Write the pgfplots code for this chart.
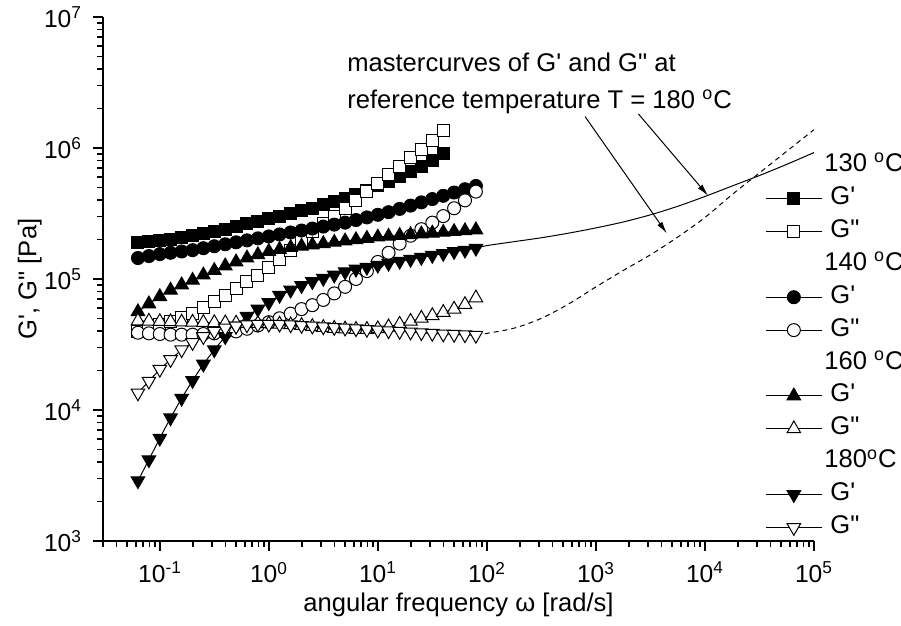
\documentclass[border=0pt]{standalone}
\usepackage{fontspec}
\setmainfont{Liberation Sans}
\usepackage{pgfplots}
\pgfplotsset{compat=1.18}
\usepackage{pgfplotstable}
\usetikzlibrary{arrows.meta}

\pgfplotstableread{
x A B C D E F G H
0.0628 188400 39810 144500 38900 56230 47860 2884 13490
0.0791 192800 42660 149600 38460 64570 47640 4169 16600
0.0996 197200 44670 154900 38020 73280 47320 6095 20420
0.125 201800 47320 158500 37580 82220 47100 8710 24270
0.158 206500 50700 162200 37580 90160 46880 12300 28840
0.199 213800 54950 166000 37580 97720 46770 16790 32730
0.250 221300 60260 171800 38020 107200 46560 22390 36310
0.315 229100 66830 177800 38460 116100 46450 28840 39810
0.397 239900 74990 184100 38900 125900 46240 36310 42170
0.499 251200 85110 190500 39810 134900 46030 43650 43650
0.628 263000 95500 197200 41690 144500 45810 51880 44670
0.791 275400 107200 204200 44160 153100 45710 58880 45190
0.996 288400 121600 211300 46770 162200 45500 66070 45190
1.25 302000 141300 218800 50120 167900 45190 74990 45190
1.58 316200 166000 226500 54330 173800 44670 82220 44670
1.99 331100 195000 234400 58880 177800 44160 89130 44160
2.50 346700 229100 242700 63100 182000 43350 95500 43650
3.15 367300 263000 251200 69180 186200 42660 101200 43150
3.97 389000 302000 260000 77620 190500 41980 107200 42660
4.99 412100 346700 269200 87100 195000 41500 113500 42170
6.28 441600 398100 281800 100000 199500 41210 118900 41690
7.91 473200 462400 295100 114800 204200 41210 123000 41210
9.96 512900 537000 309000 134900 208900 41690 127400 40740
12.5 555900 623700 323600 158500 211800 43150 131800 40270
15.8 602600 724400 342800 186200 214800 45190 136500 39810
19.9 660700 841400 363100 213800 217800 47530 141300 39360
25.0 724400 977200 384600 239900 220800 50120 146200 38900
31.5 803500 1148000 407400 269200 223900 52480 151400 38460
39.7 912000 1349000 431500 302000 227000 55590 156700 38020
49.9 nan nan 457100 346700 230100 58880 162200 37760
62.8 nan nan 484200 398100 233300 63830 166000 37500
79.1 nan nan 512900 464500 237100 71610 171800 37150
}\data

\pgfplotstableread{
x Gp Gpp
79.1 171800 37150
100 179900 38460
177.8 192800 42170
316.2 206500 50120
562.3 223900 64570
1000 245500 87100
1778 272300 116100
3162 309000 153100
5623 358900 208900
10000 426600 295100
17780 512900 441600
31620 616600 645700
56230 749900 944100
100000 922500 1380000
}\master

\newcommand{\Gp}{G\textquotesingle}
\newcommand{\Gpp}{G\textquotedbl}

\begin{document}
\begin{tikzpicture}
\path[use as bounding box] (-51.5pt,-42.5pt) rectangle (399pt,270.5pt);
\begin{axis}[
  at={(0pt,0pt)}, anchor=south west,
  scale only axis, width=355.5pt, height=262pt,
  xmode=log, ymode=log,
  xmin=0.03, xmax=1e5, ymin=1e3, ymax=1e7,
  axis x line*=bottom, axis y line*=left,
  axis line style={line width=0.9pt},
  tick align=outside,
  major tick length=5pt, minor tick length=3pt,
  every tick/.style={black, line width=0.8pt},
  xtick={0.1,1,10,100,1000,10000,100000},
  xticklabels={10\textsuperscript{-1},10\textsuperscript{0},10\textsuperscript{1},10\textsuperscript{2},10\textsuperscript{3},10\textsuperscript{4},10\textsuperscript{5}},
  minor xtick={0.03,0.04,0.05,0.06,0.07,0.08,0.09,0.2,0.3,0.4,0.5,0.6,0.7,0.8,0.9,2,3,4,5,6,7,8,9,20,30,40,50,60,70,80,90,200,300,400,500,600,700,800,900,2000,3000,4000,5000,6000,7000,8000,9000,20000,30000,40000,50000,60000,70000,80000,90000},
  ytick={1000,10000,100000,1000000,10000000},
  yticklabels={10\textsuperscript{3},10\textsuperscript{4},10\textsuperscript{5},10\textsuperscript{6},10\textsuperscript{7}},
  minor ytick={2000,3000,4000,5000,6000,7000,8000,9000,20000,30000,40000,50000,60000,70000,80000,90000,200000,300000,400000,500000,600000,700000,800000,900000,2000000,3000000,4000000,5000000,6000000,7000000,8000000,9000000},
  ticklabel style={font=\fontsize{12.3}{14}\selectfont},
  yticklabel style={xshift=-2pt},
  xticklabel style={yshift=-2pt},
  xlabel={angular frequency ω [rad/s]},
  ylabel={\Gp, \Gpp{} [Pa]},
  label style={font=\fontsize{12.8}{15}\selectfont},
  xlabel style={at={(axis description cs:0.5,-0.1336)}, anchor=base},
  ylabel style={at={(axis description cs:-0.103,0.5)}, anchor=center},
  clip=false,
  legend cell align=left,
  legend style={at={(rel axis cs:0.931,0.74)}, anchor=north west, draw=none, fill=none,
    font=\fontsize{12.8}{15}\selectfont, row sep=4.45pt, inner sep=0pt,
    nodes={inner sep=0pt, text height=9pt, text depth=3pt},
    /tikz/every odd column/.append style={column sep=4pt}},
  legend image code/.code={\draw[mark repeat=2,mark phase=2] plot coordinates {(0pt,0pt) (14pt,0pt) (28pt,0pt)};},
  every axis plot/.append style={black, line width=0.5pt},
]
\addlegendimage{empty legend}\addlegendentry{\hspace*{-3pt}130 \textsuperscript{o}C}
\addplot[mark=square*, mark size=3pt, mark options={fill=black}] table[x=x,y=A]{\data};
\addlegendentry{\Gp}
\addplot[mark=square*, mark size=3pt, mark options={fill=white}] table[x=x,y=B]{\data};
\addlegendentry{\Gpp}
\addlegendimage{empty legend}\addlegendentry{\hspace*{-3pt}140 \textsuperscript{o}C}
\addplot[mark=*, mark size=3.25pt, mark options={fill=black}] table[x=x,y=C]{\data};
\addlegendentry{\Gp}
\addplot[mark=*, mark size=3.25pt, mark options={fill=white}] table[x=x,y=D]{\data};
\addlegendentry{\Gpp}
\addlegendimage{empty legend}\addlegendentry{\hspace*{-3pt}160 \textsuperscript{o}C}
\addplot[mark=triangle*, mark size=3.9pt, mark options={fill=black}] table[x=x,y=E]{\data};
\addlegendentry{\Gp}
\addplot[mark=triangle*, mark size=3.9pt, mark options={fill=white}] table[x=x,y=F]{\data};
\addlegendentry{\Gpp}
\addlegendimage{empty legend}\addlegendentry{\hspace*{-3pt}180\textsuperscript{o}C}
\addplot[mark=triangle*, mark size=3.9pt, mark options={fill=black, rotate=180}] table[x=x,y=G]{\data};
\addlegendentry{\Gp}
\addplot[mark=triangle*, mark size=3.9pt, mark options={fill=white, rotate=180}] table[x=x,y=H]{\data};
\addlegendentry{\Gpp}

\addplot[no marks, smooth, line width=0.5pt, forget plot] table[x=x,y=Gp]{\master};
\addplot[no marks, smooth, dashed, dash pattern=on 2.5pt off 2pt, line width=0.5pt, forget plot] table[x=x,y=Gpp]{\master};

\node[anchor=base west, font=\fontsize{12.8}{15}\selectfont, inner sep=0pt] at (rel axis cs:0.343,0.895) {mastercurves of \Gp{} and \Gpp{} at};
\node[anchor=base west, font=\fontsize{12.8}{15}\selectfont, inner sep=0pt] at (rel axis cs:0.343,0.826) {reference temperature T = 180 \textsuperscript{o}C};
\draw[-{Latex[length=6pt,width=3pt]}, line width=0.5pt] (rel axis cs:0.678,0.810) -- (rel axis cs:0.793,0.587);
\draw[-{Latex[length=6pt,width=3pt]}, line width=0.5pt] (rel axis cs:0.753,0.815) -- (rel axis cs:0.851,0.659);
\end{axis}
\end{tikzpicture}
\end{document}
